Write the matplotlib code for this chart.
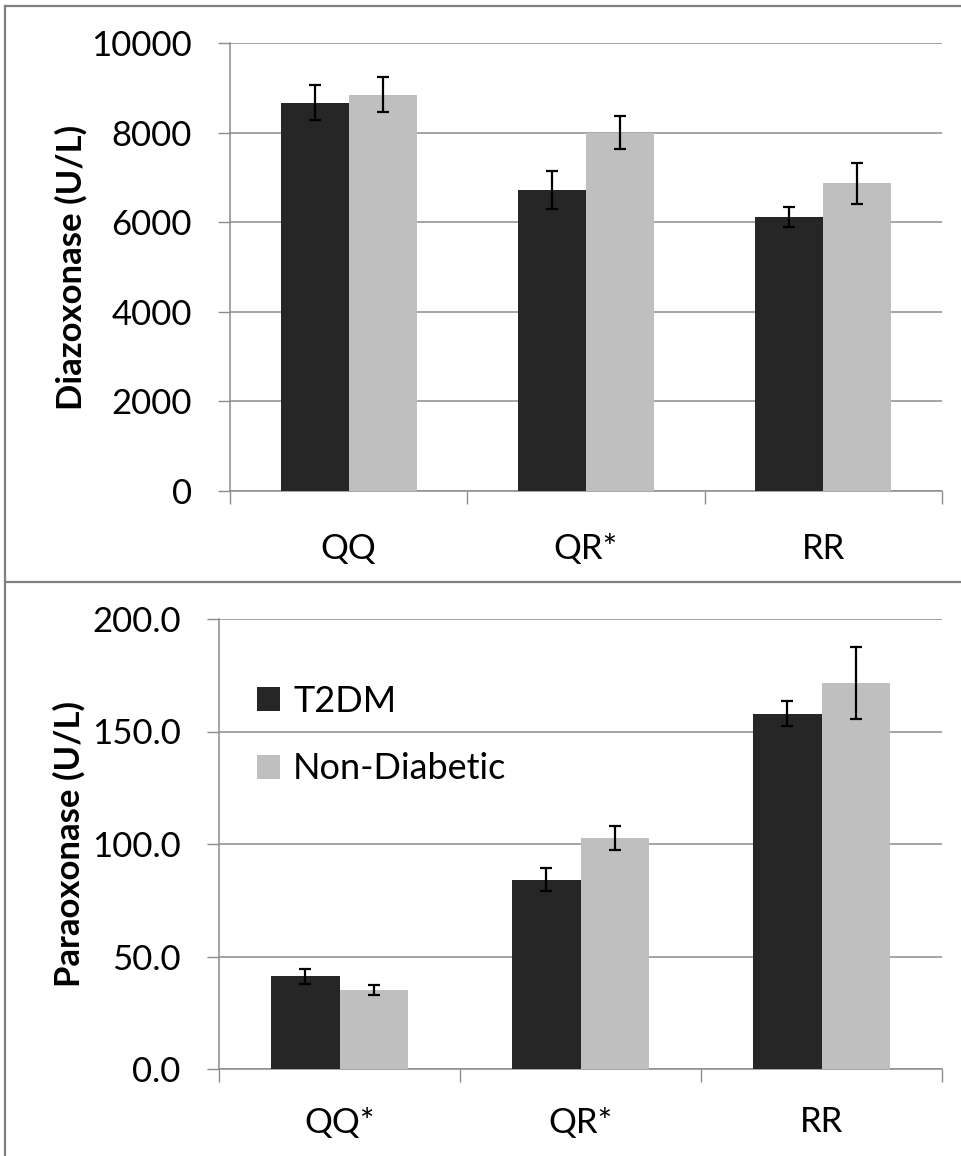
import matplotlib
matplotlib.use("Agg")
import matplotlib.pyplot as plt
from matplotlib.lines import Line2D
import numpy as np

plt.rcParams['font.family'] = ['Lato', 'DejaVu Sans']

# ---- data ----
top_categories = ["QQ", "QR*", "RR"]
bottom_categories = ["QQ*", "QR*", "RR"]
series_names = ["T2DM", "Non-Diabetic"]

diazox_t2dm = [8670, 6720, 6120]
diazox_t2dm_err = [390, 415, 230]
diazox_nondiab = [8850, 8000, 6865]
diazox_nondiab_err = [380, 375, 460]

paraox_t2dm = [41.2, 84.1, 158.0]
paraox_t2dm_err = [3.3, 5.2, 5.5]
paraox_nondiab = [35.0, 102.8, 171.5]
paraox_nondiab_err = [2.2, 5.3, 16.0]

top_yticks = [0, 2000, 4000, 6000, 8000, 10000]
bottom_yticks = [0, 50, 100, 150, 200]

DARK = "#262626"
LIGHT = "#bfbfbf"
GRID = "#8c8c8c"
FS = 25

W, H = 961, 1156
fig = plt.figure(figsize=(W / 100, H / 100), dpi=100)


def px_axes(left, top, right, bottom):
    return fig.add_axes([left / W, 1 - bottom / H, (right - left) / W, (bottom - top) / H])


def draw_panel(ax, cats, v1, e1, v2, e2, yticks, fmt, ylabel, label_x, xpad):
    x = np.arange(len(cats))
    bw = 0.286
    ax.bar(x - bw / 2, v1, bw, color=DARK, zorder=3, label=series_names[0])
    ax.bar(x + bw / 2, v2, bw, color=LIGHT, zorder=3, label=series_names[1])
    ax.errorbar(x - bw / 2, v1, yerr=e1, fmt='none', ecolor='black', elinewidth=1.6,
                capsize=4.5, capthick=1.6, zorder=4)
    ax.errorbar(x + bw / 2, v2, yerr=e2, fmt='none', ecolor='black', elinewidth=1.6,
                capsize=4.5, capthick=1.6, zorder=4)
    ax.set_xlim(-0.5, len(cats) - 0.5)
    ax.set_ylim(yticks[0], yticks[-1])
    ax.set_yticks(yticks)
    ax.set_yticklabels([fmt.format(v) for v in yticks], fontsize=FS)
    ax.set_xticks(x)
    ax.set_xticklabels(cats, fontsize=FS)
    ax.set_xticks(np.arange(len(cats) + 1) - 0.5, minor=True)
    ax.tick_params(axis='x', which='major', length=0, pad=xpad)
    ax.tick_params(axis='x', which='minor', length=9, width=1.0, color=GRID, direction='out')
    ax.tick_params(axis='y', which='major', length=8.5, width=1.0, color=GRID,
                   direction='out', pad=19)
    ax.yaxis.grid(True, color=GRID, linewidth=1.1, zorder=0)
    ax.set_axisbelow(True)
    for s in ['top', 'right']:
        ax.spines[s].set_visible(False)
    for s in ['left', 'bottom']:
        ax.spines[s].set_color(GRID)
        ax.spines[s].set_linewidth(1.1)
    ax.set_ylabel(ylabel, fontsize=FS, fontweight='bold')
    ax.yaxis.set_label_coords(label_x, 0.5)


ax1 = px_axes(230, 43, 942, 491)
draw_panel(ax1, top_categories, diazox_t2dm, diazox_t2dm_err, diazox_nondiab,
           diazox_nondiab_err, top_yticks, "{:d}", "Diazoxonase (U/L)",
           (88 - 230) / 712, 30)

ax2 = px_axes(219, 619, 942, 1069)
draw_panel(ax2, bottom_categories, paraox_t2dm, paraox_t2dm_err, paraox_nondiab,
           paraox_nondiab_err, bottom_yticks, "{:.1f}", "Paraoxonase (U/L)",
           (86 - 219) / 723, 27)

leg = ax2.legend(loc='upper left', bbox_to_anchor=((257 - 219) / 723, (1069 - 685) / 450),
                 frameon=False, fontsize=FS + 1, handlelength=0.65, handleheight=0.65,
                 handletextpad=0.35, labelspacing=0.95, borderpad=0, borderaxespad=0)

# outer frame lines
fig.add_artist(Line2D([5 / W, 1], [1 - 6 / H, 1 - 6 / H], color="#808080", lw=1.6))
fig.add_artist(Line2D([5 / W, 5 / W], [0, 1 - 6 / H], color="#808080", lw=1.6))
fig.add_artist(Line2D([5 / W, 1], [1 - 582 / H, 1 - 582 / H], color="#808080", lw=1.6))

fig.savefig("out.png", dpi=100)
